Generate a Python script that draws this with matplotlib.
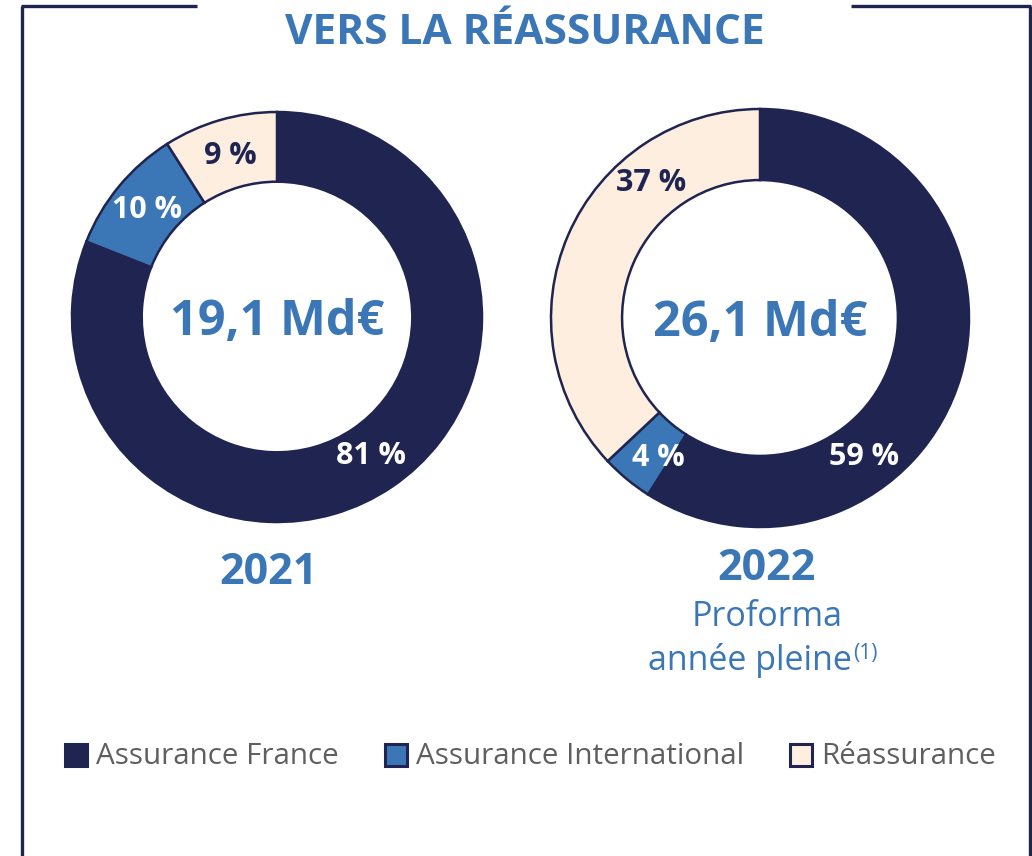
import numpy as np
import matplotlib.pyplot as plt
from matplotlib.lines import Line2D
from matplotlib.patches import Rectangle

# data
categories = ["Assurance France", "Assurance International", "Réassurance"]
shares_2021 = [81, 10, 9]
shares_2022 = [59, 4, 37]
totals = ["19,1 Md€", "26,1 Md€"]
years = ["2021", "2022"]

NAVY = "#1f2550"
BLUE = "#3b77b6"
CREAM = "#fdeee0"
GREY = "#5f5f5f"
colors = [NAVY, BLUE, CREAM]
label_colors = ["white", "white", NAVY]

plt.rcParams['font.family'] = ['Open Sans', 'DejaVu Sans']

W, H = 1032, 856
fig = plt.figure(figsize=(W / 100, H / 100), dpi=100)


def fx(x):
    return x / W


def fy(y):
    return 1 - y / H


# frame lines around the panel
for xs, ys in [([21, 197], [6, 6]), ([22, 22], [6, 856]),
               ([851, 1031], [6, 6]), ([1030, 1030], [6, 856])]:
    fig.add_artist(Line2D([fx(x) for x in xs], [fy(y) for y in ys],
                          color=NAVY, lw=2.4, solid_capstyle='butt'))

fig.text(fx(525), fy(33), "VERS LA RÉASSURANCE", color=BLUE, fontsize=30.5,
         fontweight='bold', ha='center', va='center')


def donut(cx, cy, r, shares, total, label_angles=None):
    ax = fig.add_axes([fx(cx - r), fy(cy + r), 2 * r / W, 2 * r / H])
    wedges, texts, autotexts = ax.pie(
        shares, colors=colors, startangle=90, counterclock=False, radius=1,
        wedgeprops=dict(width=0.34, edgecolor=NAVY, linewidth=1.8),
        autopct=lambda p: f"{p:.0f} %", pctdistance=0.82)
    for i, (t, c) in enumerate(zip(autotexts, label_colors)):
        t.set_color(c)
        t.set_fontsize(22)
        t.set_fontweight('bold')
        if label_angles is not None:
            a = np.deg2rad(label_angles[i])
            t.set_position((0.83 * np.cos(a), 0.83 * np.sin(a)))
    ax.text(0, -0.025, total, color=BLUE, fontsize=35, fontweight='bold',
            ha='center', va='center')
    ax.set_xlim(-1, 1)
    ax.set_ylim(-1, 1)
    ax.set_aspect('equal')
    ax.axis('off')


donut(277, 317, 205, shares_2021, totals[0])
donut(760, 318, 209, shares_2022, totals[1], label_angles=[-53, -126, 129])

fig.text(fx(268), fy(572), years[0], color=BLUE, fontsize=31,
         fontweight='bold', ha='center', va='center')
fig.text(fx(767), fy(569), years[1], color=BLUE, fontsize=31,
         fontweight='bold', ha='center', va='center')
fig.text(fx(767), fy(617), "Proforma", color=BLUE, fontsize=24.5,
         ha='center', va='center')
fig.text(fx(852), fy(661), "année pleine", color=BLUE, fontsize=24.5,
         ha='right', va='center')
fig.text(fx(853), fy(654), "(1)", color=BLUE, fontsize=15,
         ha='left', va='center')

# legend
legend_x = [65, 385, 790]
for x, name, c in zip(legend_x, categories, colors):
    fig.add_artist(Rectangle((fx(x), fy(766)), 22 / W, 22 / H,
                             transform=fig.transFigure, facecolor=c,
                             edgecolor=NAVY, linewidth=2.2))
    fig.text(fx(x + 31), fy(756), name, color=GREY, fontsize=21.3,
             ha='left', va='center')

fig.savefig("out.png", dpi=100)
